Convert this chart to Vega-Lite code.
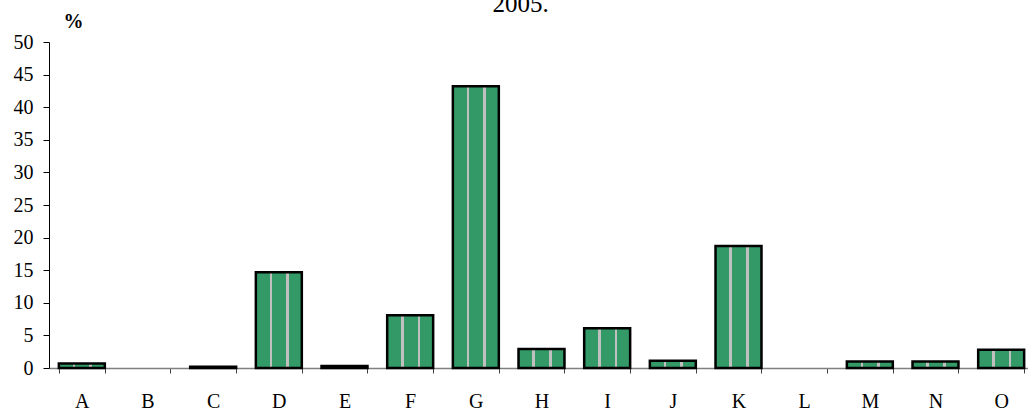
{
  "$schema": "https://vega.github.io/schema/vega-lite/v6.json",
  "width": 985,
  "height": 326,
  "autosize": {"type": "none"},
  "padding": {"left": 49, "top": 42, "right": 0, "bottom": 42},
  "background": "white",
  "title": {"text": "2005.", "font": "Liberation Serif", "fontSize": 25, "fontWeight": "normal", "anchor": "middle", "dx": -21, "dy": 6, "offset": 0, "color": "black"},
  "data": {"values": [
    {"sector": "A", "pct": 0.7},
    {"sector": "B", "pct": 0},
    {"sector": "C", "pct": 0.2},
    {"sector": "D", "pct": 14.7},
    {"sector": "E", "pct": 0.3},
    {"sector": "F", "pct": 8.1},
    {"sector": "G", "pct": 43.2},
    {"sector": "H", "pct": 2.9},
    {"sector": "I", "pct": 6.1},
    {"sector": "J", "pct": 1.1},
    {"sector": "K", "pct": 18.7},
    {"sector": "L", "pct": 0},
    {"sector": "M", "pct": 1.0},
    {"sector": "N", "pct": 1.0},
    {"sector": "O", "pct": 2.8}
  ]},
  "mark": {
    "type": "bar",
    "stroke": "black",
    "fill": {
      "gradient": "linear", "x1": 0, "y1": 0, "x2": 1, "y2": 0,
      "stops": [
        {"offset": 0, "color": "#339966"},
        {"offset": 0.3, "color": "#339966"},
        {"offset": 0.3, "color": "#c0c0c0"},
        {"offset": 0.36, "color": "#c0c0c0"},
        {"offset": 0.36, "color": "#339966"},
        {"offset": 0.66, "color": "#339966"},
        {"offset": 0.66, "color": "#c0c0c0"},
        {"offset": 0.72, "color": "#c0c0c0"},
        {"offset": 0.72, "color": "#339966"},
        {"offset": 1, "color": "#339966"}
      ]
    }
  },
  "encoding": {
    "x": {
      "field": "sector", "type": "nominal", "sort": null,
      "scale": {"paddingInner": 0.3, "paddingOuter": 0.15},
      "axis": {
        "title": null, "labelAngle": 0, "domainColor": "#808080", "domainWidth": 1.5,
        "tickColor": "#404040", "tickSize": 5, "tickBand": "extent",
        "labelFont": "Liberation Serif", "labelFontSize": 20, "labelColor": "black", "labelPadding": 18
      }
    },
    "y": {
      "field": "pct", "type": "quantitative",
      "scale": {"domain": [0, 50], "nice": false},
      "axis": {
        "values": [0, 5, 10, 15, 20, 25, 30, 35, 40, 45, 50],
        "grid": false, "domainColor": "black", "tickColor": "black", "tickSize": 6,
        "labelFont": "Liberation Serif", "labelFontSize": 20, "labelColor": "black", "labelPadding": 10,
        "title": "%", "titleAngle": 0, "titleFont": "Liberation Serif", "titleFontWeight": "bold", "titleFontSize": 20,
        "titleX": 24, "titleY": -15, "titleAlign": "center", "titleBaseline": "alphabetic", "titleColor": "black"
      }
    },
    "strokeWidth": {"condition": {"test": "datum.pct === 0", "value": 0}, "value": 2.5}
  },
  "config": {"view": {"stroke": null}}
}
